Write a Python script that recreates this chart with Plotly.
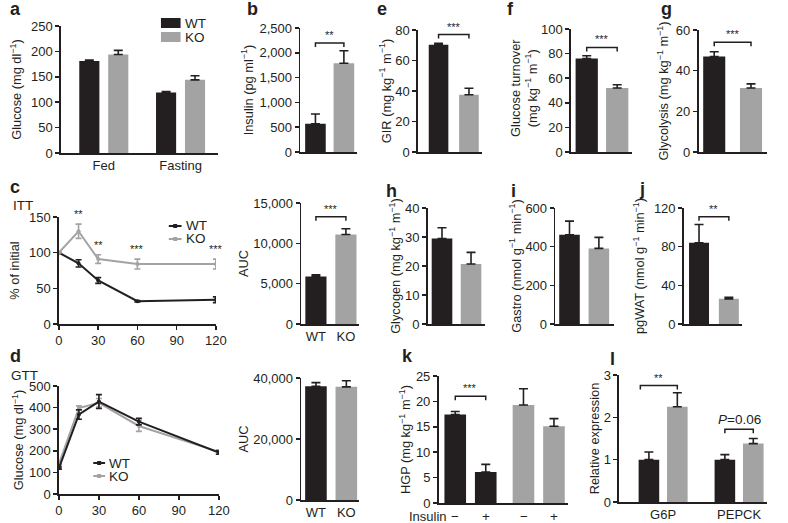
import plotly.graph_objects as go

# ---------------- data ----------------
genotypes = ["WT", "KO"]
fed_fasting = ["Fed", "Fasting"]
glucose_wt = [181, 119]
glucose_wt_err = [2, 2]
glucose_ko = [194, 144]
glucose_ko_err = [8, 8]

insulin = [570, 1790]
insulin_err = [195, 250]

gir = [70.3, 37.5]
gir_err = [1.0, 4.3]

turnover = [76, 52]
turnover_err = [2.2, 2.7]

glycolysis = [47, 31.5]
glycolysis_err = [2.3, 2.0]

itt_time = [0, 15, 30, 60, 120]
itt_wt = [100, 85, 61, 32, 34]
itt_wt_err = [0, 5, 4, 1, 4]
itt_ko = [100, 130, 91, 84, 84]
itt_ko_err = [0, 10, 6, 7, 7]
itt_sig = ["", "**", "**", "***", "***"]

itt_auc = [5900, 11100]
itt_auc_err = [200, 700]

glycogen = [29.5, 20.7]
glycogen_err = [3.7, 4.0]

gastro = [462, 391]
gastro_err = [70, 57]

pgwat = [84, 26]
pgwat_err = [19, 1.5]

gtt_time = [0, 15, 30, 60, 120]
gtt_wt = [120, 368, 428, 335, 192]
gtt_wt_err = [5, 22, 32, 15, 8]
gtt_ko = [140, 398, 422, 315, 195]
gtt_ko_err = [5, 10, 20, 25, 10]

gtt_auc = [37300, 37100]
gtt_auc_err = [1200, 2000]

insulin_treat = ["−", "+"]
hgp_minus = [17.4, 19.3]
hgp_minus_err = [0.6, 3.2]
hgp_plus = [6.1, 15.1]
hgp_plus_err = [1.5, 1.5]

genes = ["G6P", "PEPCK"]
expr_wt = [1.0, 1.0]
expr_wt_err = [0.18, 0.12]
expr_ko = [2.25, 1.38]
expr_ko_err = [0.33, 0.12]

# significance brackets: (panel, x0, x1, level, label)
brackets = [
    (2, 0, 1, 2200, "**"),
    (3, 0, 1, 77, "***"),
    (4, 0, 1, 85, "***"),
    (5, 0, 1, 54, "***"),
    (7, 0, 1, 13300, "***"),
    (10, 0, 1, 111, "**"),
    (13, -0.223, 0.223, 21, "***"),
    (14, -0.3, 0.187, 2.75, "**"),
    (14, 0.813, 1.187, 1.72, "<i>P</i>=0.06"),
]

# ---------------- style ----------------
W, H = 788, 523
BLACK = "#231f20"
GREY = "#a3a3a3"
FONT = "Liberation Sans, Arial, sans-serif"
TICKF = dict(family=FONT, size=13, color=BLACK)
TITLEF = dict(family=FONT, size=12.8, color=BLACK)
TXT = dict(family=FONT, size=13.5, color=BLACK)

fig = go.Figure()
ranges = {}


def nm(i):
    s = "" if i == 1 else str(i)
    return "x" + s, "y" + s, "xaxis" + s, "yaxis" + s


def set_axes(i, xpx, ypx, xrange, yrange, dtick, ytitle, xcat=True,
             xlabels=False, xdtick=None, tickformat=None, standoff=5):
    xr, yr, xn, yn = nm(i)
    ranges[i] = (yrange, ypx[1] - ypx[0])
    xa = dict(domain=[xpx[0] / W, xpx[1] / W], range=xrange, anchor=yr,
              showline=True, linecolor=BLACK, linewidth=1.6, showgrid=False,
              zeroline=False, fixedrange=True, tickfont=TICKF,
              showticklabels=xlabels, ticks="")
    if not xcat:
        xa.update(ticks="outside", ticklen=4, tickwidth=1.5, tickcolor=BLACK,
                  dtick=xdtick, tick0=0, showticklabels=True)
    ya = dict(domain=[1 - ypx[1] / H, 1 - ypx[0] / H], range=yrange, anchor=xr,
              showline=True, linecolor=BLACK, linewidth=1.6, showgrid=False,
              zeroline=False, fixedrange=True, ticks="outside", ticklen=4,
              tickwidth=1.5, tickcolor=BLACK, dtick=dtick, tick0=0,
              tickfont=TICKF, automargin=False,
              title=dict(text=ytitle, font=TITLEF, standoff=standoff))
    if tickformat:
        ya["tickformat"] = tickformat
    fig.layout[xn] = xa
    fig.layout[yn] = ya


def err(arr, color=BLACK, sym=False, width=4.5):
    d = dict(type="data", array=arr, color=color, thickness=1.6, width=width)
    if not sym:
        d.update(symmetric=False, arrayminus=[0] * len(arr))
    return d


def two_bar(i, vals, errs, width):
    xr, yr, _, _ = nm(i)
    fig.add_trace(go.Bar(x=genotypes, y=vals, width=width,
                         marker=dict(color=[BLACK, GREY], line_width=0),
                         error_y=err(errs), xaxis=xr, yaxis=yr, showlegend=False))


def grouped(i, cats, vals, errs, colors, offset, width, name=None):
    xr, yr, _, _ = nm(i)
    fig.add_trace(go.Bar(x=cats, y=vals, width=width, offset=offset,
                         marker=dict(color=colors, line_width=0), name=name,
                         error_y=err(errs), xaxis=xr, yaxis=yr, showlegend=False))


def paper_text(text, x, y, anchor="left", font=TXT, angle=0):
    fig.add_annotation(x=x / W, y=1 - y / H, xref="paper", yref="paper", text=text,
                       showarrow=False, xanchor=anchor, yanchor="middle", font=font,
                       textangle=angle)


def pshape(kind, x0, y0, x1, y1, **kw):
    fig.add_shape(type=kind, xref="paper", yref="paper", x0=x0 / W, x1=x1 / W,
                  y0=1 - y0 / H, y1=1 - y1 / H, **kw)


# ---- a ----
set_axes(1, (58, 218), (26, 153), [-0.559, 1.486], [0, 250], 50,
         "Glucose (mg dl<sup>−1</sup>)", xlabels=True, standoff=6)
grouped(1, fed_fasting, glucose_wt, glucose_wt_err, BLACK, -0.3195, 0.262, "WT")
grouped(1, fed_fasting, glucose_ko, glucose_ko_err, GREY, 0.0575, 0.262, "KO")
# legend a
for lab, col, yc in (("WT", BLACK, 23), ("KO", GREY, 37)):
    pshape("rect", 160, yc - 5, 180, yc + 5, fillcolor=col, line_width=0)
    paper_text(lab, 182, yc)

# ---- b ----
set_axes(2, (302, 360), (28, 152), [-0.534, 1.466], [0, 2500], 500,
         "Insulin (pg ml<sup>−1</sup>)", tickformat=",", standoff=3)
two_bar(2, insulin, insulin_err, 0.724)

# ---- e ----
set_axes(3, (422, 487), (30, 152), [-0.677, 1.42], [0, 80], 20,
         "GIR (mg kg<sup>−1</sup> m<sup>−1</sup>)", standoff=1)
two_bar(3, gir, gir_err, 0.645)

# ---- f ----
set_axes(4, (578, 640), (29, 152), [-0.516, 1.48], [0, 100], 20, "")
two_bar(4, turnover, turnover_err, 0.73)
paper_text("Glucose turnover<br>(mg kg<sup>−1</sup> m<sup>−1</sup>)", 530, 88,
           anchor="center", font=TITLEF, angle=-90)

# ---- g ----
set_axes(5, (708, 778), (30, 152), [-0.427, 1.44], [0, 60], 20,
         "Glycolysis (mg kg<sup>−1</sup> m<sup>−1</sup>)", standoff=4)
two_bar(5, glycolysis, glycolysis_err, 0.6)

# ---- c (ITT) ----
set_axes(6, (56, 216), (217, 324), [0, 120], [0, 150], 50, "% of initial",
         xcat=False, xdtick=30, standoff=6)
fig.add_trace(go.Scatter(x=itt_time, y=itt_wt, mode="lines+markers", name="WT",
                         line=dict(color=BLACK, width=2), marker=dict(size=4, color=BLACK),
                         error_y=err(itt_wt_err, BLACK, True, 3), xaxis="x6", yaxis="y6",
                         showlegend=False))
fig.add_trace(go.Scatter(x=itt_time, y=itt_ko, mode="lines+markers", name="KO",
                         line=dict(color=GREY, width=2), marker=dict(size=4, color=GREY),
                         error_y=err(itt_ko_err, GREY, True, 3), xaxis="x6", yaxis="y6",
                         showlegend=False))
for t, v, e, s in zip(itt_time, itt_ko, itt_ko_err, itt_sig):
    if s:
        fig.add_annotation(x=t, y=v + e + 3, xref="x6", yref="y6", text=s,
                           showarrow=False, yanchor="bottom",
                           font=dict(family=FONT, size=11, color=BLACK))
for lab, col, yc in (("WT", BLACK, 226), ("KO", GREY, 239)):
    pshape("line", 168, yc, 181, yc, line=dict(color=col, width=2))
    pshape("rect", 172.5, yc - 2, 176.5, yc + 2, fillcolor=col, line_width=0)
    paper_text(lab, 183, yc)

# ---- c AUC ----
set_axes(7, (303, 362), (203, 324), [-0.49, 1.44], [0, 15000], 5000, "AUC",
         xlabels=True, tickformat=",", standoff=2)
two_bar(7, itt_auc, itt_auc_err, 0.705)

# ---- h ----
set_axes(8, (432, 490), (208, 324), [-0.49, 1.47], [0, 40], 10,
         "Glycogen (mg kg<sup>−1</sup> m<sup>−1</sup>)", standoff=1)
two_bar(8, glycogen, glycogen_err, 0.71)

# ---- i ----
set_axes(9, (562, 622), (208, 324), [-0.483, 1.52], [0, 600], 200,
         "Gastro (nmol g<sup>−1</sup> min<sup>−1</sup>)", standoff=1)
two_bar(9, gastro, gastro_err, 0.7)

# ---- j ----
set_axes(10, (693, 752), (208, 324), [-0.51, 1.43], [0, 120], 40,
         "pgWAT (nmol g<sup>−1</sup> min<sup>−1</sup>)", standoff=6)
two_bar(10, pgwat, pgwat_err, 0.67)

# ---- d (GTT) ----
set_axes(11, (56, 219), (386, 494), [0, 120], [0, 500], 100,
         "Glucose (mg dl<sup>−1</sup>)", xcat=False, xdtick=30, standoff=2)
fig.add_trace(go.Scatter(x=gtt_time, y=gtt_ko, mode="lines+markers", name="KO",
                         line=dict(color=GREY, width=2), marker=dict(size=4, color=GREY),
                         error_y=err(gtt_ko_err, GREY, True, 3), xaxis="x11", yaxis="y11",
                         showlegend=False))
fig.add_trace(go.Scatter(x=gtt_time, y=gtt_wt, mode="lines+markers", name="WT",
                         line=dict(color=BLACK, width=2), marker=dict(size=4, color=BLACK),
                         error_y=err(gtt_wt_err, BLACK, True, 3), xaxis="x11", yaxis="y11",
                         showlegend=False))
for lab, col, yc in (("WT", BLACK, 463), ("KO", GREY, 476)):
    pshape("line", 91, yc, 103, yc, line=dict(color=col, width=2))
    pshape("rect", 95, yc - 2, 99, yc + 2, fillcolor=col, line_width=0)
    paper_text(lab, 105, yc)

# ---- d AUC ----
set_axes(12, (303, 362), (378, 500), [-0.484, 1.42], [0, 40000], 20000, "AUC",
         xlabels=True, tickformat=",", standoff=2)
two_bar(12, gtt_auc, gtt_auc_err, 0.71)

# ---- k ----
set_axes(13, (443, 575), (376, 503), [-0.468, 1.43], [0, 25], 5,
         "HGP (mg kg<sup>−1</sup> m<sup>−1</sup>)", standoff=2)
xr, yr, _, _ = nm(13)
for vals, errs, off in ((hgp_minus, hgp_minus_err, -0.382), (hgp_plus, hgp_plus_err, 0.065)):
    fig.add_trace(go.Bar(x=genotypes, y=vals, width=0.317, offset=off,
                         marker=dict(color=[BLACK, GREY], line_width=0),
                         error_y=err(errs), xaxis=xr, yaxis=yr, showlegend=False))
for gi, g in enumerate(genotypes):
    for ti, lab in enumerate(insulin_treat):
        fig.add_annotation(x=gi + (-0.223 if ti == 0 else 0.223), y=1 - 516 / H,
                           xref="x13", yref="paper", text=lab, showarrow=False,
                           yanchor="middle", font=TXT)
paper_text("Insulin", 432, 516, anchor="center", font=dict(family=FONT, size=13, color=BLACK))

# ---- l ----
set_axes(14, (627, 778), (375, 502), [-0.58, 1.37], [0, 3], 1,
         "Relative expression", xlabels=True, standoff=1)
grouped(14, genes, expr_wt, expr_wt_err, BLACK, -0.3225, 0.271, "WT")
grouped(14, genes, expr_ko, expr_ko_err, GREY, 0.0515, 0.271, "KO")

# ---- brackets ----
for (i, x0, x1, lvl, lab) in brackets:
    yrange, hpx = ranges[i]
    d = (yrange[1] - yrange[0]) * 4 / hpx
    xr, yr, _, _ = nm(i)
    fig.add_shape(type="path", xref=xr, yref=yr,
                  path=f"M {x0},{lvl - d} L {x0},{lvl} L {x1},{lvl} L {x1},{lvl - d}",
                  line=dict(color=BLACK, width=1.5))
    fig.add_annotation(x=(x0 + x1) / 2, y=lvl, xref=xr, yref=yr, text=lab,
                       showarrow=False, yanchor="bottom",
                       font=dict(family=FONT, size=11 if "*" in lab else 13.5, color=BLACK))

# ---- panel letters / labels ----
letters = [("a", 4, 9), ("b", 246, 9), ("e", 378, 9), ("f", 511, 9), ("g", 668, 9),
           ("c", 4, 187), ("h", 387, 191), ("i", 515, 191), ("j", 645, 189),
           ("d", 4, 356), ("k", 404, 356), ("l", 616, 359)]
for t, x, y in letters:
    paper_text(f"<b>{t}</b>", x, y, font=dict(family=FONT, size=18, color=BLACK))
paper_text("ITT", 7, 205)
paper_text("GTT", 5, 375)

fig.update_layout(
    width=W, height=H, margin=dict(l=0, r=0, t=0, b=0),
    paper_bgcolor="white", plot_bgcolor="white", barmode="overlay",
    font=dict(family=FONT, size=13, color=BLACK), showlegend=False,
)

fig.write_html(
    "out.html",
    config={"displayModeBar": False, "staticPlot": True},
    post_script="document.body.style.margin='0px';"
                "document.documentElement.style.overflow='hidden';",
)
